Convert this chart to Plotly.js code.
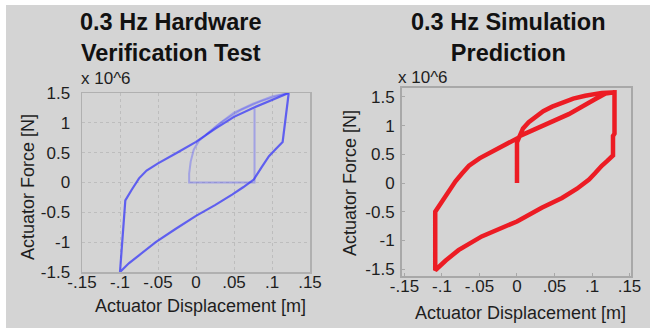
<!DOCTYPE html>
<html>
<head>
<meta charset="utf-8">
<script src="https://cdn.plot.ly/plotly-3.0.1.min.js"></script>
<style>
html,body{margin:0;padding:0;background:#ffffff;}
#chart{width:652px;height:333px;}
</style>
</head>
<body>
<div id="chart"></div>
<script>
// ---- data (displacement in m, force in units of 1e6 N) ----
var hwLoopX = [0.122, 0.118, 0.114, 0.105, 0.096, 0.086, 0.076, 0.062, 0.048, 0.025, 0.0, -0.027, -0.053, -0.075, -0.088, -0.1,
               -0.093, -0.085, -0.075, -0.065, -0.05, -0.025, 0.0, 0.025, 0.05, 0.075, 0.1, 0.122];
var hwLoopY = [1.5, 1.1, 0.68, 0.56, 0.44, 0.25, 0.05, -0.08, -0.2, -0.38, -0.56, -0.78, -1.0, -1.22, -1.35, -1.5,
               -0.3, -0.13, 0.07, 0.2, 0.32, 0.5, 0.68, 0.9, 1.1, 1.25, 1.38, 1.5];
var hwStartX = [0.077, 0.077, -0.009, -0.009, -0.007, -0.003, 0.004, 0.013, 0.03, 0.05, 0.075, 0.1, 0.122];
var hwStartY = [1.24, 0.0, 0.0, 0.15, 0.35, 0.55, 0.7, 0.8, 0.98, 1.17, 1.32, 1.44, 1.5];
var hwStart2X = [0.013, 0.035, 0.06, 0.085, 0.11, 0.122];
var hwStart2Y = [0.8, 1.02, 1.22, 1.36, 1.46, 1.5];

var simX = [0.0, 0.0, 0.004, 0.008, 0.0156, 0.025, 0.035, 0.047, 0.06, 0.075, 0.091, 0.105, 0.113, 0.13,
            0.13, 0.128, 0.128, 0.12, 0.113, 0.104, 0.096, 0.08, 0.06, 0.033, 0.0, -0.047, -0.078, -0.095, -0.109,
            -0.109, -0.098, -0.09, -0.082, -0.073, -0.064, -0.05, -0.033, -0.018, -0.0067, 0.002,
            0.004, 0.029, 0.069, 0.104, 0.118, 0.13];
var simY = [0.0, 0.71, 0.83, 0.95, 1.06, 1.16, 1.25, 1.33, 1.40, 1.47, 1.52, 1.555, 1.57, 1.58,
            0.86, 0.82, 0.48, 0.38, 0.30, 0.17, 0.06, -0.1, -0.26, -0.43, -0.67, -0.93, -1.17, -1.35, -1.52,
            -0.5, -0.27, -0.12, 0.03, 0.17, 0.30, 0.43, 0.55, 0.65, 0.72, 0.79,
            0.82, 0.97, 1.2, 1.46, 1.56, 1.58];

var xTickVals = [-0.15, -0.1, -0.05, 0, 0.05, 0.1, 0.15];
var xTickText = ['-.15', '-.1', '-.05', '0', '.05', '.1', '.15'];
var yTickVals = [-1.5, -1, -0.5, 0, 0.5, 1, 1.5];
var yTickText = ['-1.5', '-1', '-0.5', '0', '0.5', '1', '1.5'];

var leftTitle = '0.3 Hz Hardware<br>Verification Test';
var rightTitle = '0.3 Hz Simulation<br>Prediction';
var xTitle = 'Actuator Displacement [m]';
var yTitle = 'Actuator Force [N]';
var expLabel = 'x 10^6';

// ---- figure ----
var W = 652, H = 333;
function px(x){ return x / W; }
function py(y){ return 1 - y / H; }

var FONT = 'Liberation Sans, Arial, sans-serif';
var TXT = '#1e1e1e';

var traces = [
  {x: hwStartX, y: hwStartY, xaxis: 'x', yaxis: 'y', mode: 'lines',
   line: {color: 'rgba(70,70,255,0.35)', width: 2}, hoverinfo: 'skip'},
  {x: hwStart2X, y: hwStart2Y, xaxis: 'x', yaxis: 'y', mode: 'lines',
   line: {color: 'rgba(70,70,255,0.3)', width: 2}, hoverinfo: 'skip'},
  {x: hwLoopX, y: hwLoopY, xaxis: 'x', yaxis: 'y', mode: 'lines',
   line: {color: 'rgba(50,50,250,0.72)', width: 2.2}, hoverinfo: 'skip'},
  {x: simX, y: simY, xaxis: 'x2', yaxis: 'y2', mode: 'lines',
   line: {color: '#ec1c24', width: 4.5}, hoverinfo: 'skip'}
];

var tickFont = {family: FONT, size: 17, color: TXT};

var layout = {
  width: W, height: H,
  margin: {l: 0, r: 0, t: 0, b: 0},
  paper_bgcolor: '#ffffff',
  plot_bgcolor: '#ffffff',
  showlegend: false,
  font: {family: FONT, color: TXT},
  xaxis: {
    domain: [px(82), px(310)], range: [-0.15, 0.15],
    tickvals: xTickVals, ticktext: xTickText, tickfont: tickFont,
    showgrid: true, gridcolor: '#bdbdbd', griddash: 'dot', gridwidth: 1,
    zeroline: false, showline: true, mirror: true, linecolor: '#b0b0b0', linewidth: 1.5,
    ticks: '', ticklabelstandoff: -6, anchor: 'y', fixedrange: true
  },
  yaxis: {
    domain: [py(272), py(93)], range: [-1.5, 1.5],
    tickvals: yTickVals, ticktext: yTickText, tickfont: tickFont,
    showgrid: true, gridcolor: '#bdbdbd', griddash: 'dot', gridwidth: 1,
    zeroline: false, showline: true, mirror: true, linecolor: '#b0b0b0', linewidth: 1.5,
    ticks: '', ticklabelstandoff: 7, anchor: 'x', fixedrange: true
  },
  xaxis2: {
    domain: [px(402), px(631)], range: [-0.1533, 0.152],
    tickvals: xTickVals, ticktext: xTickText, tickfont: tickFont,
    showgrid: false, zeroline: false, showline: true, mirror: true,
    linecolor: '#a8a8a8', linewidth: 2,
    ticks: 'inside', ticklen: 3, tickcolor: '#a8a8a8', ticklabelstandoff: -6,
    anchor: 'y2', fixedrange: true
  },
  yaxis2: {
    domain: [py(276), py(88)], range: [-1.62, 1.655],
    tickvals: yTickVals, ticktext: yTickText, tickfont: tickFont,
    showgrid: false, zeroline: false, showline: true, mirror: true,
    linecolor: '#a8a8a8', linewidth: 2,
    ticks: 'inside', ticklen: 3, tickcolor: '#a8a8a8', ticklabelstandoff: 2,
    anchor: 'x2', fixedrange: true
  },
  shapes: [
    {type: 'rect', xref: 'paper', yref: 'paper', layer: 'below',
     x0: px(6), x1: px(650), y0: py(328), y1: py(5),
     fillcolor: '#d4d4d4', line: {width: 0}}
  ],
  annotations: [
    {text: '<b>' + leftTitle + '</b>', xref: 'paper', yref: 'paper', x: px(171), y: py(37),
     xanchor: 'center', yanchor: 'middle', showarrow: false, align: 'center',
     font: {family: FONT, size: 23.5, color: '#111'}},
    {text: '<b>' + rightTitle + '</b>', xref: 'paper', yref: 'paper', x: px(508), y: py(38),
     xanchor: 'center', yanchor: 'middle', showarrow: false, align: 'center',
     font: {family: FONT, size: 23.5, color: '#111'}},
    {text: expLabel, xref: 'paper', yref: 'paper', x: px(79), y: py(78),
     xanchor: 'left', yanchor: 'middle', showarrow: false,
     font: {family: FONT, size: 17, color: TXT}},
    {text: expLabel, xref: 'paper', yref: 'paper', x: px(396), y: py(77),
     xanchor: 'left', yanchor: 'middle', showarrow: false,
     font: {family: FONT, size: 17, color: TXT}},
    {text: xTitle, xref: 'paper', yref: 'paper', x: px(200), y: py(306),
     xanchor: 'center', yanchor: 'middle', showarrow: false,
     font: {family: FONT, size: 18, color: TXT}},
    {text: xTitle, xref: 'paper', yref: 'paper', x: px(520), y: py(313),
     xanchor: 'center', yanchor: 'middle', showarrow: false,
     font: {family: FONT, size: 18, color: TXT}},
    {text: yTitle, xref: 'paper', yref: 'paper', x: px(28), y: py(187), textangle: -90,
     xanchor: 'center', yanchor: 'middle', showarrow: false,
     font: {family: FONT, size: 18, color: TXT}},
    {text: yTitle, xref: 'paper', yref: 'paper', x: px(350), y: py(183), textangle: -90,
     xanchor: 'center', yanchor: 'middle', showarrow: false,
     font: {family: FONT, size: 18, color: TXT}}
  ]
};

Plotly.newPlot('chart', traces, layout, {staticPlot: true, displayModeBar: false});
</script>
</body>
</html>
